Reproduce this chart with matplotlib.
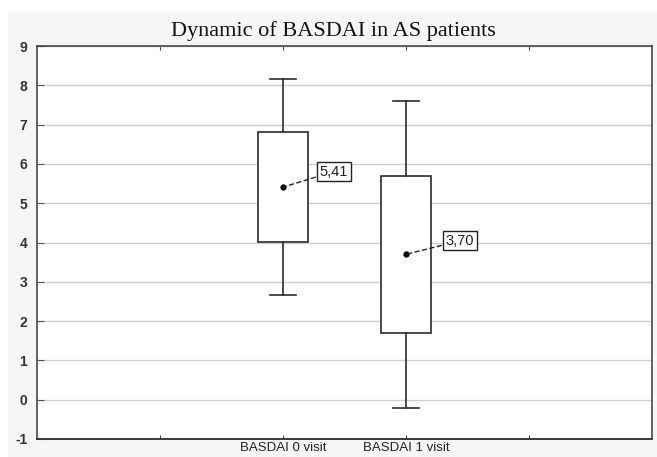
import matplotlib
matplotlib.use("Agg")
import matplotlib.pyplot as plt
from matplotlib.patches import Rectangle

# Summary statistics per visit (mean, box limits, whisker limits)
categories = ["BASDAI 0 visit", "BASDAI 1 visit"]
means = [5.41, 3.70]
box_low = [4.01, 1.70]
box_high = [6.81, 5.70]
whisker_low = [2.66, -0.20]
whisker_high = [8.16, 7.60]
mean_labels = ["5,41", "3,70"]

y_ticks = list(range(-1, 10))
positions = [1, 2]

fig = plt.figure(figsize=(6.57, 4.57), dpi=100, facecolor="white")
# light grey graph panel behind the plot
fig.patches.append(Rectangle((8 / 657, 0), 1 - 8 / 657, 1 - 11 / 457,
                             transform=fig.transFigure, facecolor="#f6f6f6",
                             edgecolor="none", zorder=-10))

ax = fig.add_axes([37 / 657, 1 - 439 / 457, 615 / 657, 393 / 457])
ax.set_facecolor("white")

stats = []
for cat, m, lo, hi, wlo, whi in zip(categories, means, box_low, box_high,
                                     whisker_low, whisker_high):
    stats.append(dict(label=cat, med=m, mean=m, q1=lo, q3=hi,
                      whislo=wlo, whishi=whi, fliers=[]))

line_col = "#2b2b2b"
ax.bxp(stats, positions=positions, widths=0.41, capwidths=0.21,
       showmeans=False, showfliers=False, patch_artist=True,
       boxprops=dict(facecolor="white", edgecolor=line_col, linewidth=1.2),
       whiskerprops=dict(color=line_col, linewidth=1.2),
       capprops=dict(color=line_col, linewidth=1.2),
       medianprops=dict(linewidth=0), zorder=3)

ax.plot(positions, means, "o", color="black", markersize=3.5, zorder=5)

offsets = [(51, 17), (54, 15)]
for x, m, txt, off in zip(positions, means, mean_labels, offsets):
    ax.annotate(txt, xy=(x, m), xytext=off, textcoords="offset pixels",
                ha="center", va="center_baseline", fontsize=10.5,
                color="#222222", family="Liberation Sans",
                bbox=dict(boxstyle="square,pad=0.18", facecolor="white",
                          edgecolor="#222222", linewidth=1.0),
                arrowprops=dict(arrowstyle="-", linestyle=(0, (3, 2.5)),
                                color="#222222", linewidth=1.0,
                                shrinkA=1, shrinkB=0),
                zorder=6)

ax.set_xlim(-1, 4)
ax.set_ylim(-1, 9)
ax.set_yticks(y_ticks)
ax.set_yticklabels([str(v) for v in y_ticks], fontsize=10, fontweight="bold",
                   color="#333333", family="Liberation Sans")
ax.set_xticks([0, 1, 2, 3])
ax.set_xticklabels(["", categories[0], categories[1], ""], fontsize=9.5,
                   color="#222222", family="Liberation Sans")
ax.tick_params(axis="y", direction="in", length=5, width=0.8, pad=7,
               colors="#555555", labelcolor="#333333")
ax.tick_params(axis="x", direction="in", length=3, width=0.8, pad=2,
               top=True, colors="#444444", labelcolor="#222222")

ax.grid(axis="y", color="#cfcfcf", linewidth=1.0, zorder=0)
ax.set_axisbelow(True)
for side, sp in ax.spines.items():
    sp.set_color("#3a3a3a")
    sp.set_linewidth(1.1)
ax.spines["bottom"].set_linewidth(1.4)

fig.text(333 / 657, 1 - 31 / 457, "Dynamic of BASDAI in AS patients",
         ha="center", va="center", fontsize=16, family="Liberation Serif",
         color="#111111")

fig.savefig("out.png", dpi=100, facecolor=fig.get_facecolor())
